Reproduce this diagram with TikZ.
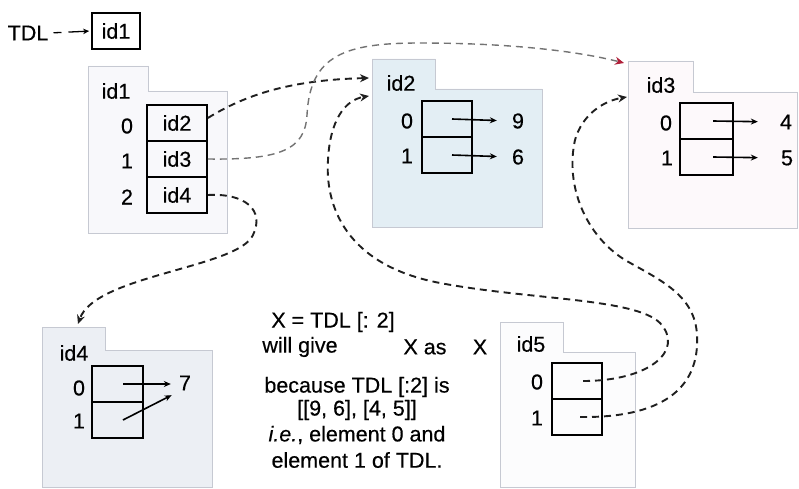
\documentclass[tikz,border=0pt]{standalone}
\usepackage{fontspec}
\setmainfont{Liberation Sans}[FakeBold=0.4]
\usetikzlibrary{arrows.meta}
\definecolor{framec}{HTML}{C6C9D2}
\definecolor{fillA}{HTML}{F8F8FB}
\definecolor{fillB}{HTML}{E3EEF4}
\definecolor{fillC}{HTML}{FDF9FB}
\definecolor{fillD}{HTML}{ECEFF4}
\definecolor{fillE}{HTML}{FCFCFD}
\definecolor{tipred}{HTML}{B0203A}
\begin{document}
\begin{tikzpicture}[x=1pt,y=-1pt,
  every node/.style={font=\fontsize{21.5}{25}\selectfont, inner sep=1pt},
  cell/.style={draw=black, line width=1.7pt, minimum height=36pt, inner sep=0pt},
  frame/.style={draw=framec, line width=0.9pt},
  ptr/.style={draw=black!88, line width=1.9pt, dash pattern=on 7pt off 5pt,
    -{Stealth[length=9pt,width=8pt]}},
  lightptr/.style={draw=black!55, line width=1.4pt, dash pattern=on 7pt off 5pt,
    -{Stealth[length=9pt,width=8pt,color=tipred]}},
  arr/.style={draw=black, line width=1.6pt, -{Stealth[length=7pt,width=6pt]}}
]
\fill[white] (0,0) rectangle (799,489);
\useasboundingbox (0,0) rectangle (799,489);

% frames
\filldraw[frame, fill=fillA] (88,66) -- (148,66) -- (148,91) -- (227,91) -- (227,233) -- (88,233) -- cycle;
\filldraw[frame, fill=fillB] (372,59) -- (435,59) -- (435,89) -- (542,89) -- (542,227) -- (372,227) -- cycle;
\filldraw[frame, fill=fillC] (628,61) -- (693,61) -- (693,92) -- (797,92) -- (797,228) -- (628,228) -- cycle;
\filldraw[frame, fill=fillD] (42,327) -- (105,327) -- (105,350) -- (212,350) -- (212,487) -- (42,487) -- cycle;
\filldraw[frame, fill=fillE] (500,322) -- (563,322) -- (563,352) -- (635,352) -- (635,487) -- (500,487) -- cycle;

% TDL
\node (tdl) at (28,33) {TDL};
\node[cell, minimum width=48pt] (tdlbox) at (116,31) {id1};
\draw[line width=1.3pt, dash pattern=on 8pt off 7pt on 30pt,
  -{Stealth[length=6pt,width=5.5pt]}, shorten <=4pt, shorten >=2pt] (tdl.east) -- (tdlbox.west);

% id1
\node (l1) at (116,91) {id1};
\node[cell, minimum width=60pt] (a0) at (177,123) {id2};
\node[cell, minimum width=60pt] (a1) at (177,159) {id3};
\node[cell, minimum width=60pt] (a2) at (177,195) {id4};
\node (i10) at (127,126) {0};
\node (i11) at (127,161) {1};
\node (i12) at (127,197) {2};

% id2
\node (l2) at (401,83) {id2};
\node[cell, minimum width=50pt] (b0) at (447,119) {};
\node[cell, minimum width=50pt] (b1) at (447,155) {};
\node (i20) at (407,121) {0};
\node (i21) at (407,156) {1};
\node (v9) at (518,121) {9};
\node (v6) at (518,157) {6};
\draw[arr, shorten >=14pt] ([xshift=5pt]b0.center) -- (v9.west);
\draw[arr, shorten >=14pt] ([xshift=5pt]b1.center) -- (v6.west);

% id3
\node (l3) at (661,85) {id3};
\node[cell, minimum width=53pt] (c0) at (706.5,121) {};
\node[cell, minimum width=53pt] (c1) at (706.5,157) {};
\node (i30) at (666,123) {0};
\node (i31) at (667,158) {1};
\node (v4) at (786,122) {4};
\node (v5) at (787,158) {5};
\draw[arr, shorten >=21pt] ([xshift=6.5pt]c0.center) -- (v4.west);
\draw[arr, shorten >=22pt] ([xshift=6.5pt]c1.center) -- (v5.west);

% id4
\node (l4) at (74,353) {id4};
\node[cell, minimum width=51pt] (d0) at (117.5,384) {};
\node[cell, minimum width=51pt] (d1) at (117.5,420) {};
\node (i40) at (79,388) {0};
\node (i41) at (79,421) {1};
\node (v7) at (185,383) {7};
\draw[arr, shorten >=7pt] ([xshift=5.5pt]d0.center) -- ([yshift=-1pt]v7.west);
\draw[arr, shorten >=7pt] ([xshift=5.5pt]d1.center) -- ([yshift=-9pt]v7.west);

% id5
\node (l5) at (531,344) {id5};
\node[cell, minimum width=50pt] (e0) at (577,381) {};
\node[cell, minimum width=50pt] (e1) at (577,417) {};
\node (i50) at (537,382) {0};
\node (i51) at (537,418) {1};

% explanatory text
\node (t1) at (333,322) {X = TDL [: 2]};
\node (t2) at (300,347) {will give};
\node (t3) at (425,347) {X as};
\node (t4) at (480,347) {X};
\node (t5) at (357,387) {because TDL [:2] is};
\node (t6) at (357,410) {[[9, 6], [4, 5]]};
\node (t7) at (357,435) {\textit{i.e.}, element 0 and};
\node (t8) at (357,460) {element 1 of TDL.};

% arrow targets
\coordinate (tipA) at (369,78);
\coordinate (tipB) at (369,96);
\coordinate (tipC) at (624,63);
\coordinate (tipD) at (627,97);
\coordinate (tipE) at (78,324);

% pointer connectors
\draw[ptr] ([yshift=5pt]a0.east) .. controls (245,95) and (290,80) .. (tipA);
\draw[lightptr] (a1.east) .. controls (280,160) and (305,150) .. (307,115)
  .. controls (310,55) and (345,43) .. (420,43)
  .. controls (520,43) and (585,53) .. (tipC);
\draw[ptr] (a2.east) .. controls (245,193) and (265,210) .. (253,235)
  .. controls (238,268) and (95,275) .. (tipE);
\draw[ptr] ([xshift=6pt]e0.center) .. controls (650,381) and (685,350) .. (660,323)
  .. controls (635,298) and (530,300) .. (440,283)
  .. controls (345,265) and (325,205) .. (328,160)
  .. controls (330,120) and (345,100) .. (tipB);
\draw[ptr] ([xshift=3pt]e1.center) .. controls (660,418) and (700,390) .. (697,335)
  .. controls (695,295) and (660,280) .. (625,260)
  .. controls (585,235) and (565,185) .. (575,140)
  .. controls (582,115) and (603,101) .. (tipD);
\end{tikzpicture}
\end{document}
